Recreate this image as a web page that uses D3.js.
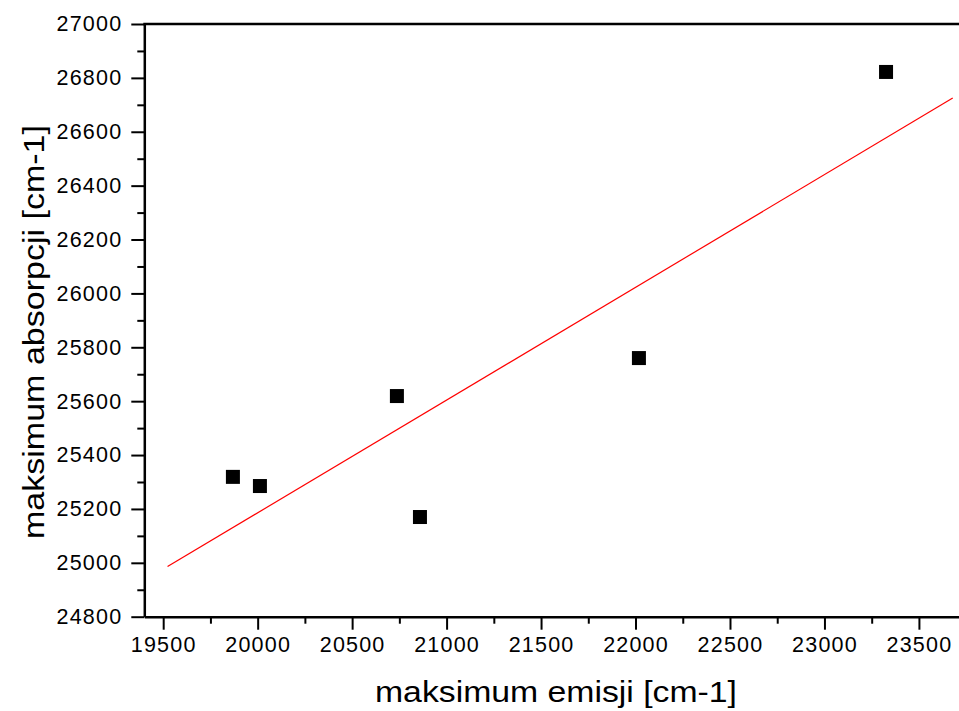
<!DOCTYPE html>
<html>
<head>
<meta charset="utf-8">
<script src="https://cdn.jsdelivr.net/npm/d3@7"></script>
<style>
  html, body { margin: 0; padding: 0; background: #fff; overflow: hidden; }
  svg { display: block; }
</style>
</head>
<body>
<div id="chart"></div>
<script>
// measured points (emission max vs absorption max)
var emisja = [19869, 20012, 20737, 20859, 22018, 23326];
var absorpcja = [25319, 25285, 25619, 25170, 25760, 26822];

// linear fit, drawn between its two ends
var fitX = [19523, 23679];
var fitY = [24986, 26725];

var xTicks = [19500, 20000, 20500, 21000, 21500, 22000, 22500, 23000, 23500];
var yTicks = [24800, 25000, 25200, 25400, 25600, 25800, 26000, 26200, 26400, 26600, 26800, 27000];

var xLabel = "maksimum emisji [cm-1]";
var yLabel = "maksimum absorpcji [cm-1]";

var W = 959, H = 711;
var FONT = "Liberation Sans, Arial, sans-serif";
var svg = d3.select("#chart").append("svg")
    .attr("width", W)
    .attr("height", H)
    .style("font-family", FONT);

// plot area (right side runs past the window edge, as in the original)
var pLeft = 144.3, pRight = 975.6, pTop = 24, pBottom = 616.7;

var x = d3.scaleLinear().domain([19400, 23800]).range([pLeft, pRight]);
var y = d3.scaleLinear().domain([24800, 27000]).range([pBottom, pTop]);

// minor ticks first
var xMinor = d3.range(19750, 23800, 500);
var yMinor = d3.range(24900, 27000, 200);

svg.append("g")
    .attr("transform", "translate(0," + pBottom + ")")
    .call(d3.axisBottom(x).tickValues(xMinor).tickSize(7).tickFormat(""))
    .call(function (g) { g.select(".domain").remove(); })
    .selectAll("line").attr("stroke-width", 2);

svg.append("g")
    .attr("transform", "translate(" + pLeft + ",0)")
    .call(d3.axisLeft(y).tickValues(yMinor).tickSize(7).tickFormat(""))
    .call(function (g) { g.select(".domain").remove(); })
    .selectAll("line").attr("stroke-width", 2);

// X axis
var xAxis = svg.append("g")
    .attr("transform", "translate(0," + pBottom + ")")
    .call(d3.axisBottom(x).tickValues(xTicks).tickSize(13).tickSizeOuter(0).tickPadding(7).tickFormat(d3.format("d")));
xAxis.select(".domain").attr("stroke-width", 2.5);
xAxis.selectAll("line").attr("stroke-width", 2);
xAxis.selectAll("text")
    .attr("fill", "#000")
    .style("font-family", FONT)
    .style("font-size", "21.5px")
    .style("letter-spacing", "1.2px");

// Y axis
var yAxis = svg.append("g")
    .attr("transform", "translate(" + pLeft + ",0)")
    .call(d3.axisLeft(y).tickValues(yTicks).tickSize(13).tickSizeOuter(0).tickPadding(9).tickFormat(d3.format("d")));
yAxis.select(".domain").attr("stroke-width", 2.5);
yAxis.selectAll("line").attr("stroke-width", 2);
yAxis.selectAll("text")
    .attr("fill", "#000")
    .style("font-family", FONT)
    .style("font-size", "21.5px")
    .style("letter-spacing", "1.2px");

// top frame line
svg.append("line")
    .attr("x1", x(19400) - 1).attr("x2", x(23800))
    .attr("y1", y(27000)).attr("y2", y(27000))
    .attr("stroke", "#000").attr("stroke-width", 2.5);

// fit line
svg.append("line")
    .attr("x1", x(fitX[0])).attr("y1", y(fitY[0]))
    .attr("x2", x(fitX[1])).attr("y2", y(fitY[1]))
    .attr("stroke", "#ff0000").attr("stroke-width", 1.2);

// squares
var s = 14;
svg.selectAll("rect.pt")
    .data(emisja)
    .enter()
    .append("rect")
    .attr("class", "pt")
    .attr("x", function (d) { return x(d) - s / 2; })
    .attr("y", function (d, i) { return y(absorpcja[i]) - s / 2; })
    .attr("width", s)
    .attr("height", s)
    .attr("fill", "#000");

// axis titles
svg.append("text")
    .attr("x", 556).attr("y", 702)
    .attr("text-anchor", "middle")
    .attr("textLength", 362)
    .attr("lengthAdjust", "spacingAndGlyphs")
    .style("font-size", "29px")
    .text(xLabel);

svg.append("text")
    .attr("transform", "translate(44,332) rotate(-90)")
    .attr("text-anchor", "middle")
    .attr("textLength", 414)
    .attr("lengthAdjust", "spacingAndGlyphs")
    .style("font-size", "29px")
    .text(yLabel);
</script>
</body>
</html>
